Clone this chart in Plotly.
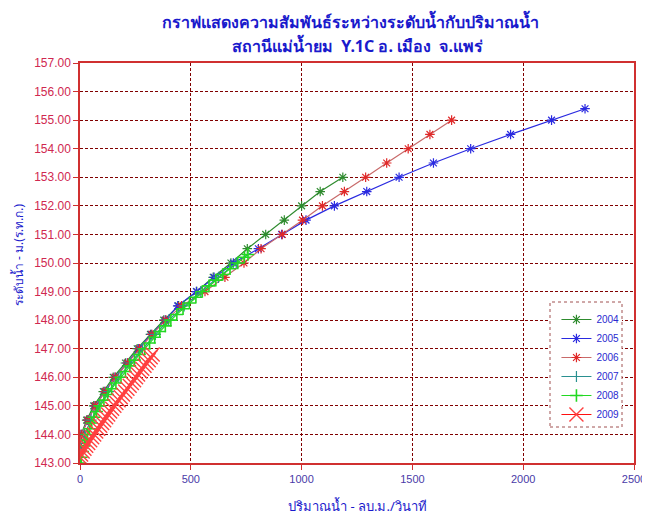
import plotly.graph_objects as go

# ---- data (water level m MSL vs discharge m3/s) ----
h2004 = [144.0, 144.5, 145.0, 145.5, 146.0, 146.5, 147.0, 147.5, 148.0, 148.5, 149.0, 149.5,
         150.0, 150.5, 151.0, 151.5, 152.0, 152.5, 153.0]
q2004 = [5, 30, 62, 105, 150, 205, 258, 318, 378, 445, 527, 601,
         681, 755, 838, 922, 1000, 1084, 1186]

h2005 = [144.0, 144.5, 145.0, 145.5, 146.0, 146.5, 147.0, 147.5, 148.0, 148.5, 149.0, 149.5,
         150.0, 150.5, 151.0, 151.5, 152.0, 152.5, 153.0, 153.5, 154.0, 154.5, 155.0, 155.4]
q2005 = [5, 35, 68, 112, 158, 213, 265, 322, 385, 441, 525, 605,
         692, 805, 910, 1020, 1148, 1294, 1440, 1595, 1763, 1943, 2128, 2279]

h2006 = [143.6, 144.0, 144.5, 145.0, 145.5, 146.0, 146.5, 147.0, 147.5, 148.0, 148.5, 149.0, 149.5,
         150.0, 150.5, 151.0, 151.5, 152.0, 152.5, 153.0, 153.5, 154.0, 154.5, 155.0]
q2006 = [0, 6, 36, 69, 114, 159, 215, 268, 325, 388, 458, 564, 654,
         740, 817, 913, 1004, 1094, 1193, 1289, 1384, 1481, 1579, 1677]

h2007 = [143.5, 144.0, 144.5, 145.0, 145.5, 146.0, 146.5, 147.0, 147.5, 148.0, 148.5, 149.0,
         149.5, 150.0]
q2007 = [0, 20, 50, 85, 128, 175, 228, 282, 340, 400, 470, 545, 625, 705]

h2008 = [143.0, 143.2, 143.4, 143.6, 143.8, 144.0, 144.2, 144.4, 144.6, 144.8, 145.0, 145.2,
         145.4, 145.6, 145.8, 146.0, 146.2, 146.4, 146.6, 146.8, 147.0, 147.2, 147.4, 147.6,
         147.8, 148.0, 148.2, 148.4, 148.6, 148.8, 149.0, 149.2, 149.4, 149.6, 149.8, 150.0,
         150.2, 150.3]
q2008 = [0, 6, 12, 19, 26, 34, 43, 53, 63, 75, 90, 108,
         125, 143, 162, 185, 205, 225, 246, 268, 292, 314, 337, 360,
         385, 410, 437, 465, 494, 523, 552, 582, 613, 644, 677, 712,
         742, 758]

h2009 = [143.2, 143.3, 143.4, 143.5, 143.6, 143.7, 143.8, 143.9, 144.0, 144.1, 144.2, 144.3,
         144.4, 144.5, 144.6, 144.7, 144.8, 144.9, 145.0, 145.1, 145.2, 145.3, 145.4, 145.5,
         145.6, 145.7, 145.8, 145.9, 146.0, 146.1, 146.2, 146.3, 146.4, 146.5, 146.6, 146.7,
         146.8]
q2009 = [0, 5, 12, 20, 28, 37, 46, 55, 64, 73, 82, 91,
         100, 109, 118, 127, 136, 145, 155, 164, 174, 184, 194, 204,
         214, 224, 234, 244, 253, 262, 272, 281, 291, 300, 310, 319,
         328]

x_ticks = [0, 500, 1000, 1500, 2000, 2500]
y_ticks = [143, 144, 145, 146, 147, 148, 149, 150, 151, 152, 153, 154, 155, 156, 157]

title1 = "กราฟแสดงความสัมพันธ์ระหว่างระดับน้ำกับปริมาณน้ำ"
title2 = "สถานีแม่น้ำยม  Y.1C อ. เมือง  จ.แพร่"
xlabel = "ปริมาณน้ำ - ลบ.ม./วินาที"
ylabel = "ระดับน้ำ - ม.(ร.ท.ก.)"

series = [
    ("2004", q2004, h2004, "#2e8b2e", "#2e8b2e", "asterisk-open", 8, 1.2),
    ("2005", q2005, h2005, "#2a2ae0", "#2a2ae0", "asterisk-open", 8, 1.2),
    ("2006", q2006, h2006, "#c86a6a", "#e02828", "asterisk-open", 8, 1.2),
    ("2007", q2007, h2007, "#2a9090", "#2a9090", "cross-thin-open", 8, 1.2),
    ("2008", q2008, h2008, "#22d822", "#22d822", "cross-thin-open", 9, 1.6),
    ("2009", q2009, h2009, "#ff1010", "#ff4040", "x-thin-open", 14, 1.4),
]

fig = go.Figure()
for name, q, h, lc, mc, sym, ms, mw in series:
    fig.add_trace(go.Scatter(
        x=q, y=h, name=name, mode="lines+markers",
        line=dict(color=lc, width=1.2),
        marker=dict(symbol=sym, size=ms, color=mc, line=dict(color=mc, width=mw)),
    ))

FONT = "Liberation Sans, Arial, sans-serif"
TFONT = "Tahoma, Noto Sans, DejaVu Sans, sans-serif"

# the page body has an 8px margin, so the figure is 8px smaller and all
# reference pixel positions are shifted by 8
OFF = 8
W, H = 650 - OFF, 520 - OFF
L, R, T, B = 80 - OFF, 16, 63 - OFF, 57
plot_h = H - T - B
plot_w = W - L - R

def py(pix):
    return (H - B - (pix - OFF)) / plot_h

def px(pix):
    return ((pix - OFF) - L) / plot_w

fig.update_layout(
    width=W, height=H,
    margin=dict(l=L, r=R, t=T, b=B, autoexpand=False),
    paper_bgcolor="white", plot_bgcolor="white",
    showlegend=True,
    legend=dict(x=0.86, y=0.395, xanchor="left", yanchor="top",
                bgcolor="rgba(0,0,0,0)", borderwidth=0,
                font=dict(family=FONT, size=10, color="#2a2ad0"),
                itemwidth=30, tracegroupgap=0),
    annotations=[
        dict(text="<b>" + title1 + "</b>", x=px(350), y=py(21), xref="paper", yref="paper",
             xanchor="center", yanchor="middle", showarrow=False,
             font=dict(family=TFONT, size=16, color="#1a1acc")),
        dict(text="<b>" + title2 + "</b>", x=px(357), y=py(45), xref="paper", yref="paper",
             xanchor="center", yanchor="middle", showarrow=False,
             font=dict(family=TFONT, size=16, color="#1a1acc")),
        dict(text=ylabel, x=px(18), y=py(255), xref="paper", yref="paper",
             xanchor="center", yanchor="middle", textangle=-90, showarrow=False,
             font=dict(family=TFONT, size=12, color="#1a1acc")),
        dict(text=xlabel, x=0.5, y=py(506), xref="paper", yref="paper",
             xanchor="center", yanchor="middle", showarrow=False,
             font=dict(family=TFONT, size=13, color="#1a1acc")),
    ],
    shapes=[dict(type="rect", xref="paper", yref="paper",
                 x0=px(550), x1=px(622), y0=py(427), y1=py(302),
                 line=dict(color="#a05050", width=1, dash="dot"),
                 fillcolor="white", layer="above")],
)

fig.update_xaxes(
    range=[0, 2500], tickvals=x_ticks, ticktext=[str(v) for v in x_ticks],
    showgrid=True, gridcolor="#800000", griddash="3px,2px", gridwidth=1,
    showline=True, linecolor="#d03030", linewidth=1.5, mirror=True,
    ticks="outside", ticklen=5, tickcolor="#d03030",
    tickfont=dict(family=FONT, size=11, color="#4a3aa8"),
    automargin=False, zeroline=False,
)
fig.update_yaxes(
    range=[143, 157], tickvals=y_ticks, ticktext=[f"{v:.2f}" for v in y_ticks],
    showgrid=True, gridcolor="#800000", griddash="3px,2px", gridwidth=1,
    showline=True, linecolor="#d03030", linewidth=1.5, mirror=True,
    ticks="outside", ticklen=5, tickcolor="#d03030",
    tickfont=dict(family=FONT, size=12, color="#d02850"),
    automargin=False, zeroline=False,
)

fig.write_html("out.html")
